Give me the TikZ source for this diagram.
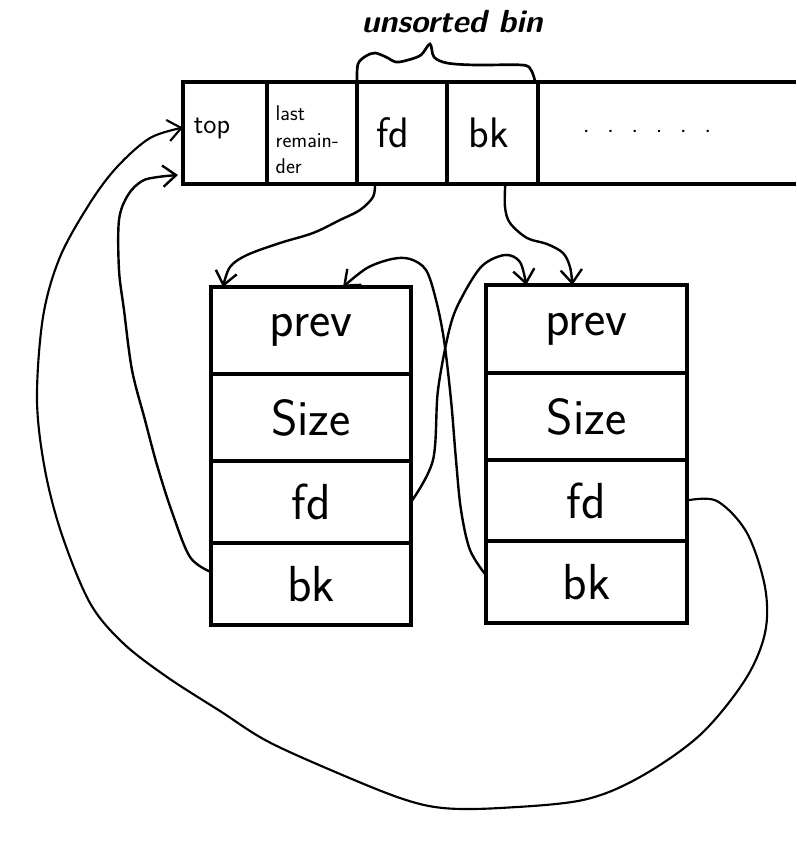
\documentclass[tikz,border=0pt]{standalone}
\usepackage{fontspec}
\usetikzlibrary{arrows.meta,calc}
\begin{document}
\begin{tikzpicture}[x=0.75pt, y=-0.75pt,
  cell/.style 2 args={draw, line width=3pt, inner sep=0pt, outer sep=0pt,
    anchor=north west, minimum width=#1*0.75pt, minimum height=#2*0.75pt},
  slot/.style={font=\sffamily\fontsize{38}{38}\selectfont},
  binlbl/.style={font=\sffamily\fontsize{32}{32}\selectfont},
  link/.style={line width=1.8pt, line cap=round, line join=round,
    -{Straight Barb[length=10pt, width=16pt]}},
  hand/.style={smooth, tension=0.55}]
\useasboundingbox[fill=white] (0,0) rectangle (796,860);

% the bin array
\node[cell={84}{102}] (bintop) at (183,82) {};
\node[cell={90}{102}] (lastrem) at (267,82) {};
\node[cell={90}{102}, binlbl] (binfd) at (357,82) {\hspace*{-14pt}fd};
\node[cell={91}{102}, binlbl] (binbk) at (447,82) {\hspace*{-6pt}bk};
\node[cell={258}{102}, draw=none] (rest) at (538,82) {};
\draw[line width=3pt] (rest.north west) -- (rest.north east)
                      (rest.south west) -- (rest.south east);
\node[font=\sffamily\fontsize{21}{21}\selectfont] (toplbl) at (212,128) {top};
\node[font=\sffamily\fontsize{16}{20}\selectfont, align=left, anchor=west]
  (remlbl) at (271,140) {last\\remain-\\der};
\node[font=\sffamily\fontsize{20}{20}\selectfont] (dots) at (647,131)
  {.\hspace{13pt}.\hspace{13pt}.\hspace{13pt}.\hspace{13pt}.\hspace{13pt}.};

% brace over fd / bk and its label
\draw[line width=2pt, line cap=round] plot[hand] coordinates {(binfd.north west)
  (358,64) (366,56) (375,53) (386,57) (396,62) (408,60) (421,55) (430,44)
  (434,57) (447,63) (475,65) (522,65) (531,70) ($(binbk.north east)+(-3,-1)$)};
\node[font=\sffamily\bfseries\itshape\fontsize{24}{24}\selectfont] (binname)
  at (452,22) {unsorted bin};

% first free chunk
\node[cell={200}{87}, slot] (c1prev) at (211,287) {prev};
\node[cell={200}{87}, slot] (c1size) at (211,374) {Size};
\node[cell={200}{82}, slot] (c1fd)   at (211,461) {fd};
\node[cell={200}{82}, slot] (c1bk)   at (211,543) {bk};

% second free chunk
\node[cell={201}{88}, slot] (c2prev) at (486,285) {prev};
\node[cell={201}{87}, slot] (c2size) at (486,373) {Size};
\node[cell={201}{81}, slot] (c2fd)   at (486,460) {fd};
\node[cell={201}{82}, slot] (c2bk)   at (486,541) {bk};

% bin fd -> first chunk
\draw[link] plot[hand] coordinates {($(binfd.south west)!0.2!(binfd.south east)$)
  (373,197) (360,210) (340,220) (313,233) (280,243) (247,255) (230,267)
  ($(c1prev.north west)!0.06!(c1prev.north east)$)};

% bin bk -> second chunk
\draw[link] plot[hand] coordinates {($(binbk.south west)!0.64!(binbk.south east)$)
  (505,207) (510,223) (527,238) (547,244) (563,253) (570,267)
  ($(c2prev.north west)!0.43!(c2prev.north east)$)};

% first chunk fd -> second chunk
\draw[link] plot[hand] coordinates {(c1fd.east)
  (433,460) (438,390) (450,327) (462,297) (482,266) (505,255) (520,262)
  ($(c2prev.north west)!0.2!(c2prev.north east)$)};

% second chunk bk -> first chunk
\draw[link] plot[hand] coordinates {([yshift=5pt]c2bk.west)
  (470,550) (461,510) (456,460) (451,400) (444,340) (436,300) (426,270)
  (410,259) (392,259) (367,268)
  ($(c1prev.north west)!0.66!(c1prev.north east)$)};

% first chunk bk -> bin
\draw[link] plot[hand] coordinates {([yshift=9pt]c1bk.west)
  (190,557) (172,512) (157,465) (145,420) (132,370) (124,310) (119,270)
  (119,220) (128,195) (142,181) (158,177) ([shift={(-5,-9)}]bintop.south west)};

% second chunk fd -> bin
\draw[link, line width=1.6pt] plot[hand] coordinates {(c2fd.east)
  (717,501) (747,533) (765,587) (765,633) (745,680) (700,735) (640,777)
  (583,800) (500,808) (443,808) (400,798) (333,771) (267,741) (220,711)
  (167,677) (123,643) (90,603) (62,535) (45,470) (37,400) (43,317)
  (60,257) (90,203) (117,167) (150,138) ([yshift=4pt]bintop.west)};
\end{tikzpicture}
\end{document}
